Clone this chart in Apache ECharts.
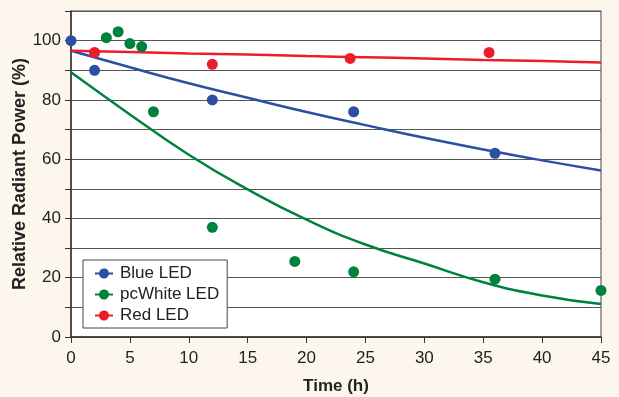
<!DOCTYPE html>
<html>
<head>
<meta charset="utf-8">
<script src="https://cdn.jsdelivr.net/npm/echarts@6/dist/echarts.min.js"></script>
<style>
  html, body { margin: 0; padding: 0; background: #fdf6ec; }
  #chart { width: 619px; height: 397px; }
</style>
</head>
<body>
<div id="chart"></div>
<script>
// measured points
const blueT = [0, 2, 12, 24, 36];
const blueV = [100, 90, 80, 76, 62];
const whiteT = [3, 4, 5, 6, 7, 12, 19, 24, 36, 45];
const whiteV = [101, 103, 99, 98, 76, 37, 25.5, 22, 19.5, 15.7];
const redT = [2, 12, 23.7, 35.5];
const redV = [96, 92, 94, 96];

// fitted curves
const fitT = [0, 5, 10, 15, 20, 25, 30, 35, 40, 45];
const blueFit = [96.6, 91, 85.6, 80.7, 75.9, 71.5, 67.2, 63.3, 59.6, 56.2];
const whiteFit = [89.3, 75.1, 61.5, 49.8, 39.6, 31.2, 24.8, 18.5, 14, 11.1];
const redFit = [96.6, 96.2, 95.7, 95.3, 94.8, 94.4, 94, 93.5, 93.1, 92.6];

const colors = { blue: '#2a4fa3', white: '#00823f', red: '#ec1c2a' };
const legendIcon = 'path://M0,4 H4.1 A5,5 0 0 1 13.9,4 H18 V6 H13.9 A5,5 0 0 1 4.1,6 H0 Z';

const zip = (a, b) => a.map((x, i) => [x, b[i]]);

const chart = echarts.init(document.getElementById('chart'));

const fitLine = (name, t, v, color) => ({
    name: name,
    type: 'line',
    data: zip(t, v),
    smooth: true,
    showSymbol: false,
    silent: true,
    lineStyle: { color: color, width: 2.5 },
    z: 2
});
const dots = (name, t, v, color) => ({
    name: name,
    type: 'scatter',
    data: zip(t, v),
    symbolSize: 11,
    itemStyle: { color: color, opacity: 1 },
    z: 3
});

chart.setOption({
    backgroundColor: '#fdf6ec',
    animation: false,
    textStyle: { fontFamily: 'Liberation Sans, Arial, sans-serif' },
    grid: {
        left: 71, right: 18, top: 11, bottom: 60,
        outerBoundsMode: 'none',
        show: true, backgroundColor: '#fff', borderColor: '#444', borderWidth: 1
    },
    legend: {
        orient: 'vertical',
        left: 83, top: 260,
        backgroundColor: '#fff',
        borderColor: '#444', borderWidth: 1,
        padding: [5, 8, 4, 12],
        itemWidth: 18, itemHeight: 10, itemGap: 4,
        textStyle: { fontSize: 17, color: '#222', padding: [0, 0, 0, 2] },
        data: [
            { name: 'Blue LED', icon: legendIcon, itemStyle: { color: colors.blue } },
            { name: 'pcWhite LED', icon: legendIcon, itemStyle: { color: colors.white } },
            { name: 'Red LED', icon: legendIcon, itemStyle: { color: colors.red } }
        ]
    },
    xAxis: {
        type: 'value', min: 0, max: 45, interval: 5,
        name: 'Time (h)', nameLocation: 'middle', nameGap: 41,
        nameMoveOverlap: false,
        nameTextStyle: { fontSize: 17, fontWeight: 'bold', color: '#222' },
        axisLine: { show: true, lineStyle: { color: '#333', width: 1.5 } },
        axisTick: { show: true, length: 6, lineStyle: { color: '#333' } },
        axisLabel: { fontSize: 17, color: '#222', margin: 13 },
        splitLine: { show: false }
    },
    yAxis: {
        type: 'value', min: 0, max: 110, interval: 10,
        name: 'Relative Radiant Power (%)', nameLocation: 'middle', nameGap: 42,
        nameMoveOverlap: false,
        nameTextStyle: { fontSize: 18, fontWeight: 'bold', color: '#222' },
        axisLine: { show: true, lineStyle: { color: '#333', width: 1.5 } },
        axisTick: { show: true, length: 6, lineStyle: { color: '#333' } },
        axisLabel: {
            fontSize: 17, color: '#222', margin: 10,
            formatter: v => (v % 20 === 0 && v <= 100) ? String(v) : ''
        },
        splitLine: { show: true, lineStyle: { color: '#555', width: 1 } }
    },
    series: [
        fitLine('Blue fit', fitT, blueFit, colors.blue),
        fitLine('pcWhite fit', fitT, whiteFit, colors.white),
        fitLine('Red fit', fitT, redFit, colors.red),
        dots('Blue LED', blueT, blueV, colors.blue),
        dots('pcWhite LED', whiteT, whiteV, colors.white),
        dots('Red LED', redT, redV, colors.red)
    ]
});
</script>
</body>
</html>
